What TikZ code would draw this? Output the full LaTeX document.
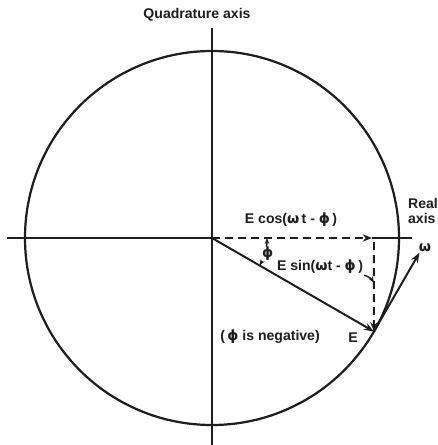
\documentclass[tikz,border=0pt]{standalone}
\usepackage{fontspec}
\setmainfont{Liberation Sans}
\newfontfamily\grk{DejaVu Sans}
\usepackage{tikz}
\usetikzlibrary{arrows.meta,positioning,calc}
\definecolor{ink}{HTML}{1E1E1E}
\newcommand{\ph}{{\grk ϕ}}
\newcommand{\om}{{\grk ω}}

\begin{document}
\begin{tikzpicture}[
  x=0.03cm, y=0.03cm,
  font=\fontsize{12}{14}\selectfont\bfseries,
  axisline/.style={draw=ink,line width=1.9pt},
  rim/.style={draw=ink,line width=1.9pt},
  phasor/.style={draw=ink,line width=1.7pt,-{Stealth[length=3mm,width=2.2mm]}},
  proj/.style={draw=ink,line width=1.7pt,dash pattern=on 2.4mm off 1.5mm,
               -{Stealth[length=2.8mm,width=2.2mm]}},
  dim/.style={draw=ink,line width=1.2pt,{Stealth[length=1.8mm]}-{Stealth[length=1.8mm]}},
  lead/.style={draw=ink,line width=1.2pt,-{Stealth[length=2mm]}},
  lbl/.style={text=ink,inner sep=1pt},
]
\useasboundingbox (-212,-207) rectangle (225,238);

% --- axes and circle --------------------------------------------------------
\coordinate (O)  at (0,0);
\coordinate (xl) at (-205,0);
\coordinate (xr) at (200,0);
\coordinate (yt) at (0,210);
\coordinate (yb) at (0,-207);
\coordinate (Ex) at (160,0);
\draw[axisline] (xl) -- (O);
\draw[axisline] (Ex) -- (xr);
\draw[axisline] (yt) -- (yb);
\draw[rim] (O) circle[radius=5.61cm];

% --- phasor E and its projections -----------------------------------------
\coordinate (E)    at (-30:187);
\coordinate (Etop) at (162,-4);
\coordinate (w)    at ($(E)+(60:91)$);
\coordinate (hit)  at (162,-45);
\draw[phasor] (O) -- (E);
\draw[proj] (O) -- (Ex);
\draw[proj] (Etop) -- (E);
\draw[phasor] (E) -- (w);

% --- angle phi --------------------------------------------------------------
\draw[dim] ([shift={(0:55)}]O) arc[start angle=0,end angle=-30,radius=1.65cm];
\node[lbl,fill=white,inner sep=0.5pt] (phi) at (-16:58) {\ph};

% --- labels -----------------------------------------------------------------
\node[lbl] (quad) at (-15,223) {Quadrature axis};
\node[lbl,align=left] (real) at (211,27) {Real\\[-2pt]axis};
\node[lbl] (omega) at (213,-10) {\om};
\node[lbl] (cos) at (79,18) {E cos(\om\,t - \ph\,)};
\node[lbl] (sin) at (108,-29) {E sin(\om t - \ph\,)};
\node[lbl] (neg) at (58,-99) {(\,\ph\ is negative)};
\node[lbl] (Elbl) at (141,-100) {E};

\draw[lead] (sin.south east) to[bend left=20] (hit);
\end{tikzpicture}
\end{document}
